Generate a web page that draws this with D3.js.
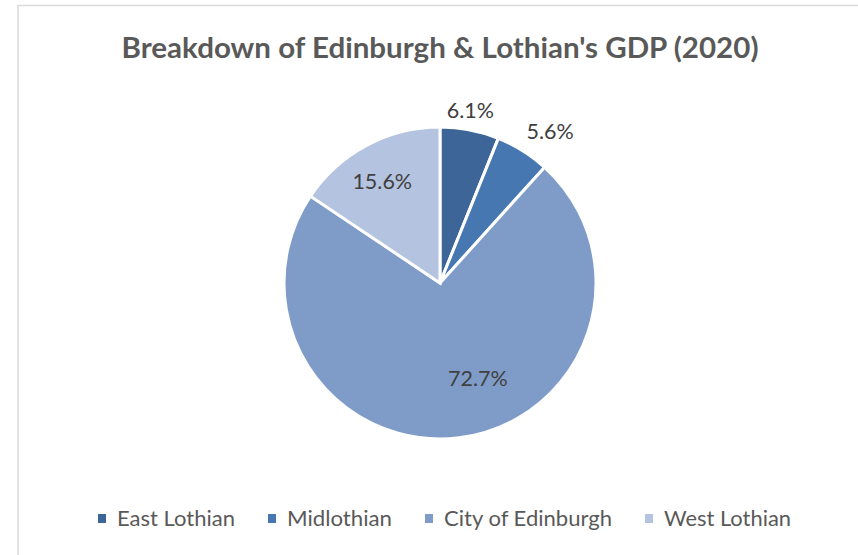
<!DOCTYPE html>
<html>
<head>
<meta charset="utf-8">
<script src="https://cdn.jsdelivr.net/npm/d3@7"></script>
<style>
  html, body { margin: 0; padding: 0; background: #ffffff; }
  svg { display: block; }
</style>
</head>
<body>
<svg id="chart" width="858" height="555"></svg>
<script>
// GDP share by council area, 2020 (percent)
const regions = ["East Lothian", "Midlothian", "City of Edinburgh", "West Lothian"];
const shares = [6.1, 5.6, 72.7, 15.6];
const colors = ["#3d6598", "#4677b1", "#7f9cc9", "#b4c3df"];
const titleText = "Breakdown of Edinburgh & Lothian's GDP (2020)";

// label placement: [radius as fraction of pie radius, angular nudge in degrees]
const labelPlacement = [[1.125, -1], [1.2, 4], [0.66, -14.6], [0.75, -1.5]];
// legend text widths (condensed face)
const legendTextWidths = [118, 105, 168, 127];

const W = 858, H = 555;
const cx = 440, cy = 283, R = 156;
const FONT = "Lato, 'Open Sans', sans-serif";
const svg = d3.select("#chart");

svg.append("rect").attr("width", W).attr("height", H).attr("fill", "#ffffff");
// chart area frame
svg.append("rect")
  .attr("x", 18).attr("y", 5.5).attr("width", 900).attr("height", 700)
  .attr("fill", "#ffffff").attr("stroke", "#d9d9d9").attr("stroke-width", 1.5);

// title
svg.append("text")
  .attr("x", 440).attr("y", 57.5)
  .attr("text-anchor", "middle")
  .attr("font-family", FONT)
  .attr("font-weight", 700)
  .attr("font-size", 28.5)
  .attr("fill", "#595959")
  .attr("textLength", 637)
  .attr("lengthAdjust", "spacingAndGlyphs")
  .text(titleText);

const data = regions.map((r, i) => ({ region: r, value: shares[i], color: colors[i], i }));

const pie = d3.pie().value(d => d.value).sort(null);
const arc = d3.arc().innerRadius(0).outerRadius(R);
const arcs = pie(data);

const g = svg.append("g").attr("transform", `translate(${cx},${cy})`);
g.selectAll("path.slice")
  .data(arcs)
  .join("path")
  .attr("class", "slice")
  .attr("d", arc)
  .attr("fill", d => d.data.color)
  .attr("stroke", "#ffffff")
  .attr("stroke-width", 3)
  .attr("stroke-linejoin", "miter");

// value labels
const labelPos = d => {
  const [rf, da] = labelPlacement[d.data.i];
  const a = (d.startAngle + d.endAngle) / 2 + da * Math.PI / 180;
  return [Math.sin(a) * R * rf, -Math.cos(a) * R * rf];
};
g.selectAll("text.val")
  .data(arcs)
  .join("text")
  .attr("class", "val")
  .attr("x", d => labelPos(d)[0])
  .attr("y", d => labelPos(d)[1])
  .attr("dy", "0.36em")
  .attr("text-anchor", "middle")
  .attr("font-family", FONT)
  .attr("font-size", 21.5)
  .attr("fill", "#404040")
  .text(d => d3.format(".1f")(d.data.value) + "%");

// legend
const markerToText = 19, gap = 33;
const legend = svg.append("g");
const items = legend.selectAll("g.item")
  .data(data)
  .join("g")
  .attr("class", "item");
items.append("rect")
  .attr("width", 8).attr("height", 9)
  .attr("y", -4.5)
  .attr("fill", d => d.color);
items.append("text")
  .attr("x", markerToText)
  .attr("dy", "0.36em")
  .attr("font-family", FONT)
  .attr("font-size", 21)
  .attr("fill", "#595959")
  .attr("textLength", d => legendTextWidths[d.i])
  .attr("lengthAdjust", "spacingAndGlyphs")
  .text(d => d.region);

const widths = legendTextWidths.map(w => markerToText + w);
const total = d3.sum(widths) + gap * (widths.length - 1);
let x0 = 444.5 - total / 2;
items.attr("transform", (d, i) => {
  const x = x0;
  x0 += widths[i] + gap;
  return `translate(${x},518.5)`;
});
</script>
</body>
</html>
